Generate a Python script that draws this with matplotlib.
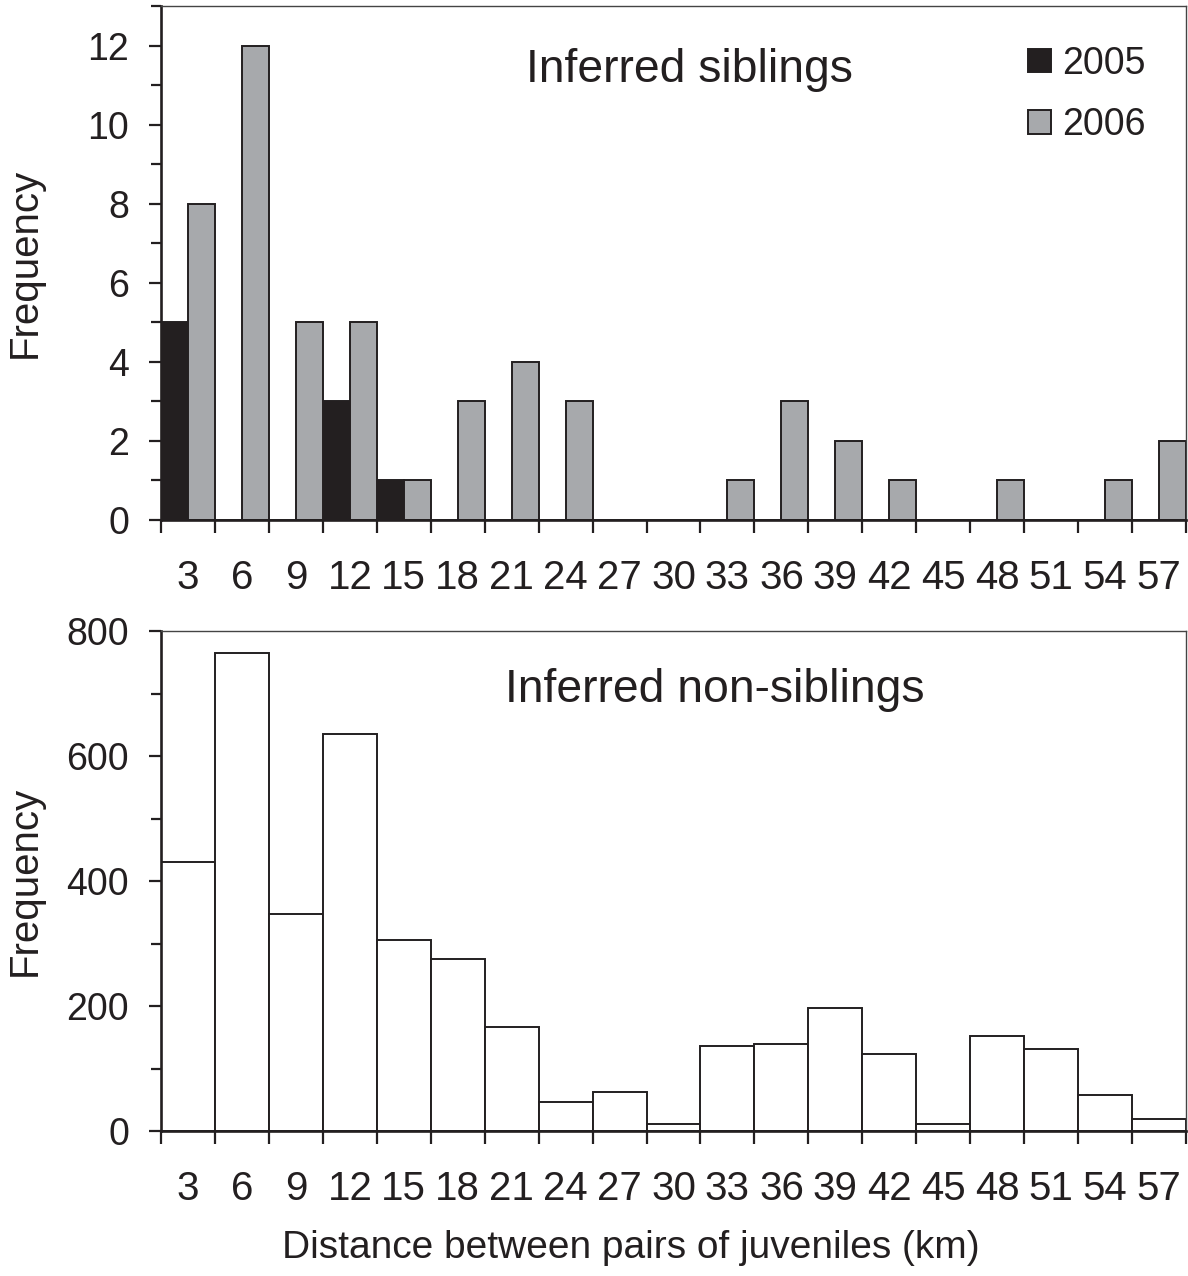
import numpy as np
import matplotlib
matplotlib.use("Agg")
import matplotlib.pyplot as plt
from matplotlib.ticker import MultipleLocator, FixedLocator

plt.rcParams['font.family'] = ['Liberation Sans', 'DejaVu Sans']

# distance classes (km)
dist = [3, 6, 9, 12, 15, 18, 21, 24, 27, 30, 33, 36, 39, 42, 45, 48, 51, 54, 57]
# inferred siblings
sib_2005 = [5, 0, 0, 3, 1, 0, 0, 0, 0, 0, 0, 0, 0, 0, 0, 0, 0, 0, 0]
sib_2006 = [8, 12, 5, 5, 1, 3, 4, 3, 0, 0, 1, 3, 2, 1, 0, 1, 0, 1, 2]
# inferred non-siblings
nonsib = [430, 765, 348, 635, 305, 275, 167, 46, 62, 11, 136, 139, 197, 123, 11, 152, 132, 58, 20]

ink = '#231f20'
grey = '#a7a9ac'
W, H = 1188, 1276
fig = plt.figure(figsize=(W / 100, H / 100), dpi=100)

ax1 = fig.add_axes([161 / W, 1 - 520 / H, 1025 / W, 514 / H])
ax2 = fig.add_axes([161 / W, 1 - 1131 / H, 1025 / W, 500 / H])

x = np.arange(len(dist))

ax1.bar(x, sib_2005, width=0.5, align='edge', color=ink, edgecolor=ink, linewidth=1.4, label='2005')
ax1.bar(x + 0.5, sib_2006, width=0.5, align='edge', color=grey, edgecolor=ink, linewidth=1.4, label='2006')
ax2.bar(x, nonsib, width=1.0, align='edge', color='white', edgecolor=ink, linewidth=1.4)

ax1.set_ylim(0, 13)
ax2.set_ylim(0, 800)
ax1.yaxis.set_major_locator(MultipleLocator(2))
ax1.yaxis.set_minor_locator(MultipleLocator(1))
ax2.yaxis.set_major_locator(MultipleLocator(200))
ax2.yaxis.set_minor_locator(MultipleLocator(100))

for ax in (ax1, ax2):
    ax.set_xlim(0, len(dist))
    ax.set_xticks(x + 0.5)
    ax.set_xticklabels([str(d) for d in dist])
    ax.xaxis.set_minor_locator(FixedLocator(np.arange(len(dist) + 1)))
    ax.tick_params(axis='x', which='major', length=0, pad=28, labelsize=29, labelcolor=ink)
    ax.tick_params(axis='x', which='minor', length=9, width=1.6, color=ink, direction='out')
    ax.tick_params(axis='y', which='major', length=9, width=1.6, color=ink, pad=14,
                   labelsize=27, labelcolor=ink, direction='out')
    ax.tick_params(axis='y', which='minor', length=7, width=1.6, color=ink, direction='out')
    for s in ('left', 'bottom'):
        ax.spines[s].set_linewidth(1.9)
        ax.spines[s].set_color(ink)
    for s in ('top', 'right'):
        ax.spines[s].set_linewidth(1.0)
        ax.spines[s].set_color('#444444')
    ax.set_ylabel('Frequency', fontsize=29, color=ink)
    ax.yaxis.set_label_coords(-0.1327, 0.5)
    ax.yaxis.label.set_va('center')

ax1.text(0.516, 0.875, 'Inferred siblings', transform=ax1.transAxes,
         ha='center', va='center', fontsize=33.3, color=ink)
ax2.text(0.54, 0.882, 'Inferred non-siblings', transform=ax2.transAxes,
         ha='center', va='center', fontsize=33.3, color=ink)

ax2.set_xlabel('Distance between pairs of juveniles (km)', fontsize=28, color=ink)
ax2.xaxis.set_label_coords(0.458, -0.198)

leg = ax1.legend(loc='upper right', bbox_to_anchor=(0.975, 0.952), frameon=False,
                 fontsize=27, handlelength=0.6, handleheight=0.6, handletextpad=0.3,
                 labelspacing=0.68, borderaxespad=0)
for t in leg.get_texts():
    t.set_color(ink)

fig.savefig('out.png', dpi=100, facecolor='white')
